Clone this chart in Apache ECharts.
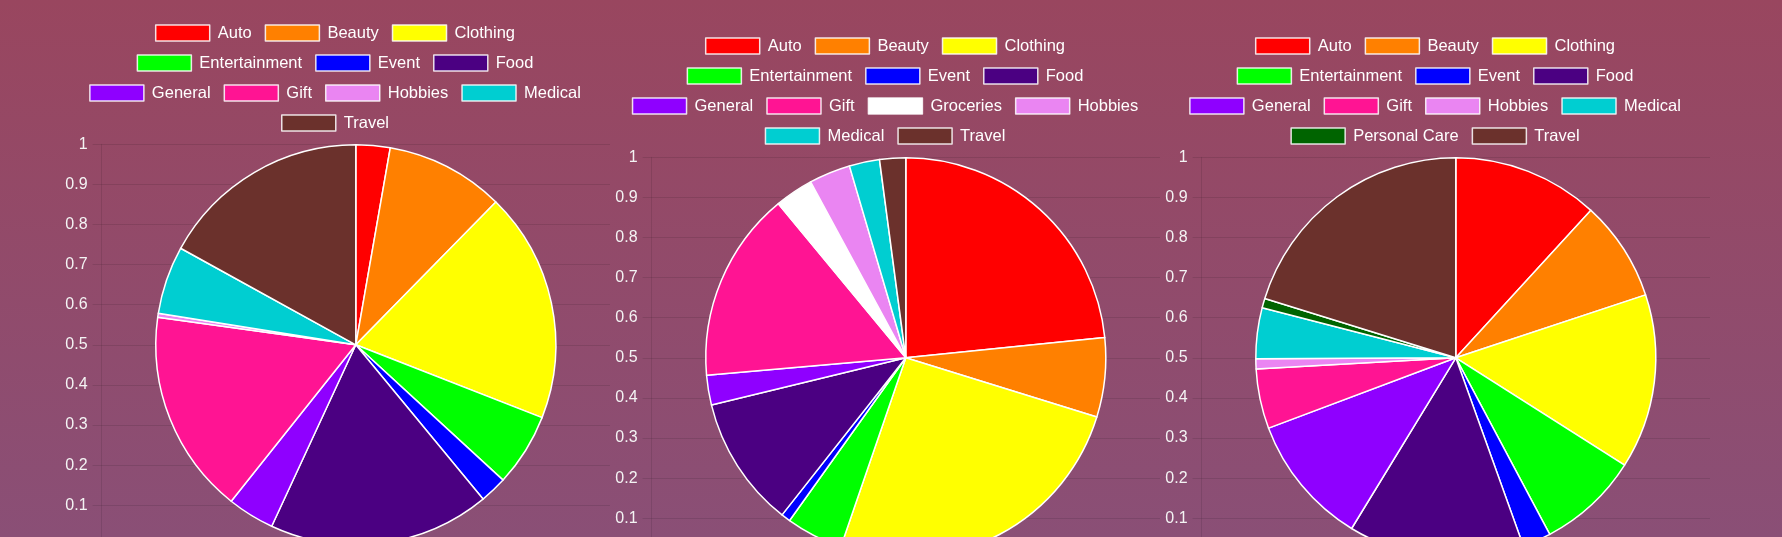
<!DOCTYPE html>
<html>
<head>
<meta charset="utf-8">
<script src="https://cdn.jsdelivr.net/npm/echarts@6/dist/echarts.min.js"></script>
<style>
html, body { margin:0; padding:0; width:1782px; height:537px; overflow:hidden;
  background: linear-gradient(to bottom, #99465f 0%, #8a4f76 100%); }
.c { position:absolute; width:550px; height:620px; }
</style>
</head>
<body>
<div id="c1" class="c" style="left:59.7px; top:-12.7px;"></div>
<div id="c2" class="c" style="left:609.7px; top:0px;"></div>
<div id="c3" class="c" style="left:1159.7px; top:0px;"></div>
<script>
// ---- data ----
const categories1 = ['Auto','Beauty','Clothing','Entertainment','Event','Food','General','Gift','Hobbies','Medical','Travel'];
const values1     = [2.76, 9.6, 18.6, 5.9, 2.2, 17.9, 3.8, 16.5, 0.33, 5.5, 17.0];

const categories2 = ['Auto','Beauty','Clothing','Entertainment','Event','Food','General','Gift','Groceries','Hobbies','Medical','Travel'];
const values2     = [23.4, 6.4, 25.5, 4.6, 0.75, 10.6, 2.4, 15.4, 3.1, 3.35, 2.45, 2.1];

const categories3 = ['Auto','Beauty','Clothing','Entertainment','Event','Food','General','Gift','Hobbies','Medical','Personal Care','Travel'];
const values3     = [11.8, 8.1, 14.1, 8.2, 2.3, 14.2, 10.55, 4.83, 0.82, 4.1, 0.76, 20.2];

const yMin = 0, yMax = 1, yInterval = 0.1;

// ---- style ----
const categoryColors = {
  'Auto':'#ff0000', 'Beauty':'#ff8000', 'Clothing':'#ffff00', 'Entertainment':'#00ff00',
  'Event':'#0000ff', 'Food':'#4b0082', 'General':'#8f00ff', 'Gift':'#ff1493',
  'Groceries':'#ffffff', 'Hobbies':'#ea85f2', 'Medical':'#00ced1', 'Personal Care':'#006400',
  'Travel':'#6b312c'
};
const FONT = "'Liberation Sans', Arial, Helvetica, sans-serif";
const gridColor = 'rgba(0,0,0,0.1)';
const gridLeft = 41.6, gridTop = 157.3, gridW = 508.4, gridH = 401;
const legendRowTop = 32.3, legendRowGap = 30;

function chunkRows(arr, sizes) {
  const out = []; let k = 0;
  sizes.forEach(s => { out.push(arr.slice(k, k + s)); k += s; });
  return out;
}

function build(el, categories, values, rowSizes) {
  const chart = echarts.init(document.getElementById(el), null, {renderer:'canvas'});
  const rows = chunkRows(categories, rowSizes);
  const legends = rows.map((names, i) => ({
    data: names,
    top: legendRowTop + i * legendRowGap,
    left: 'center',
    orient: 'horizontal',
    icon: 'rect',
    itemWidth: 54,
    itemHeight: 16,
    itemGap: 13,
    selectedMode: false,
    itemStyle: { borderColor: 'rgba(255,255,255,0.85)', borderWidth: 1.5 },
    textStyle: { color: '#ffffff', fontSize: 16.5, fontFamily: FONT, padding: [0,0,0,3] }
  }));
  chart.setOption({
    animation: false,
    legend: legends,
    grid: { left: gridLeft, top: gridTop, width: gridW, height: gridH, containLabel: false },
    xAxis: { type: 'value', show: false, min: 0, max: 1 },
    yAxis: {
      type: 'value', min: yMin, max: yMax, interval: yInterval,
      axisLine: { show: true, lineStyle: { color: gridColor, width: 1 } },
      axisTick: { show: true, length: 9, lineStyle: { color: gridColor } },
      splitLine: { show: true, lineStyle: { color: gridColor, width: 1 } },
      axisLabel: { color: '#f4f4f4', fontSize: 16, fontFamily: FONT, margin: 14 }
    },
    series: [{
      type: 'pie',
      center: [gridLeft + gridW / 2, gridTop + gridH / 2],
      radius: Math.min(gridW, gridH) / 2 - 0.5,
      startAngle: 90,
      clockwise: true,
      avoidLabelOverlap: false,
      label: { show: false },
      labelLine: { show: false },
      emphasis: { disabled: true },
      itemStyle: { borderColor: '#ffffff', borderWidth: 1.5 },
      data: categories.map((n, i) => ({ name: n, value: values[i], itemStyle: { color: categoryColors[n] } }))
    }]
  });
}

build('c1', categories1, values1, [3,3,4,1]);
build('c2', categories2, values2, [3,3,4,2]);
build('c3', categories3, values3, [3,3,4,2]);
</script>
</body>
</html>
